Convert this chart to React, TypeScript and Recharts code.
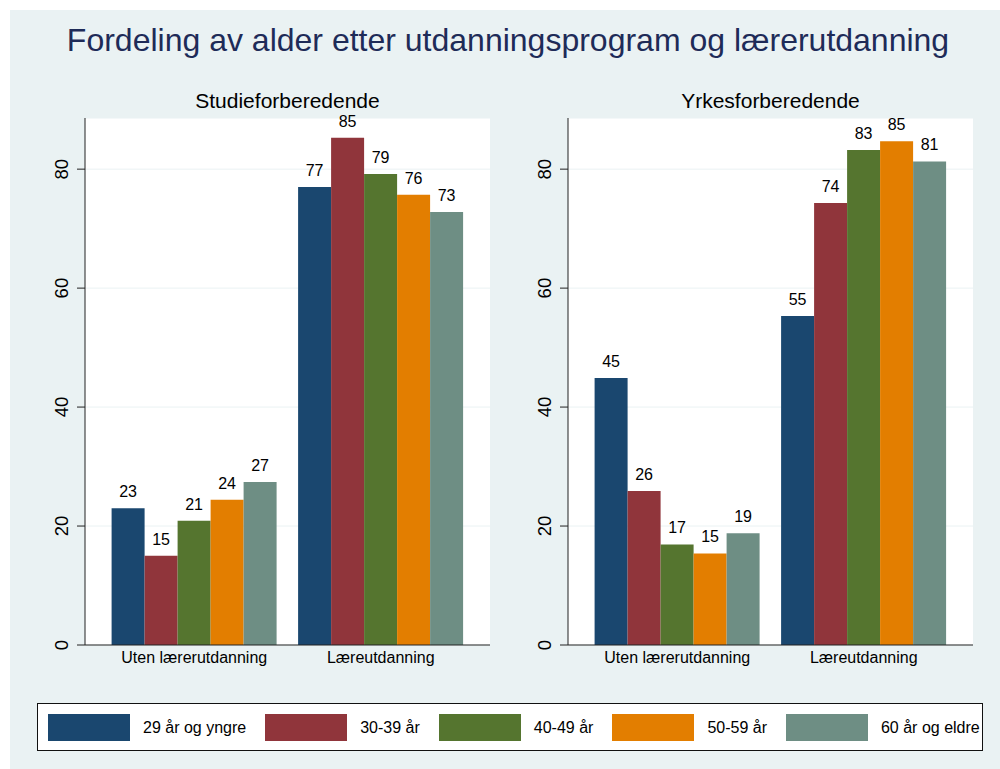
import { Bar, BarChart, CartesianGrid, LabelList, XAxis, YAxis } from 'recharts';

const categories = ['Uten lærerutdanning', 'Læreutdanning'];
const seriesNames = ['29 år og yngre', '30-39 år', '40-49 år', '50-59 år', '60 år og eldre'];
const seriesColors = ['#1a476f', '#90353b', '#55752f', '#e37e00', '#6e8e84'];

// one array per age group: [uten, med lærerutdanning]
const studie29 = [23.0, 77.0];
const studie30 = [15.0, 85.3];
const studie40 = [20.9, 79.2];
const studie50 = [24.4, 75.7];
const studie60 = [27.4, 72.8];

const yrkes29 = [44.9, 55.3];
const yrkes30 = [25.9, 74.3];
const yrkes40 = [16.9, 83.2];
const yrkes50 = [15.4, 84.7];
const yrkes60 = [18.8, 81.3];

const yTicks = [0, 20, 40, 60, 80];

const keys = ['s0', 's1', 's2', 's3', 's4'];

function buildRows(series: number[][]) {
  return categories.map((group, i) => {
    const row: Record<string, string | number> = { group };
    series.forEach((vals, s) => {
      row[keys[s]] = vals[i];
    });
    return row;
  });
}

const studieRows = buildRows([studie29, studie30, studie40, studie50, studie60]);
const yrkesRows = buildRows([yrkes29, yrkes30, yrkes40, yrkes50, yrkes60]);

const font = 'Liberation Sans, Arial, sans-serif';

function RotatedTick(props: any) {
  const { x, y, payload } = props;
  return (
    <text
      x={x - 7}
      y={y}
      transform={`rotate(-90, ${x - 7}, ${y})`}
      textAnchor="middle"
      fontSize={18.5}
      fontFamily={font}
      fill="#000"
    >
      {payload.value}
    </text>
  );
}

function Panel({ rows, yAxisWidth, rightMargin }: { rows: any[]; yAxisWidth: number; rightMargin: number }) {
  return (
    <BarChart
      width={500}
      height={700}
      data={rows}
      margin={{ top: 118, right: rightMargin, left: 0, bottom: 25 }}
      barCategoryGap={10.6}
      barGap={0}
    >
      <CartesianGrid vertical={false} stroke="#eaf2f3" fill="#ffffff" fillOpacity={1} />
      <XAxis
        dataKey="group"
        height={30}
        padding={{ left: 16, right: 16 }}
        tickLine={false}
        tickSize={5}
        stroke="#222"
        tick={{ fontSize: 16, fill: '#000', fontFamily: font }}
        interval={0}
      />
      <YAxis
        width={yAxisWidth}
        domain={[0, 88.6]}
        ticks={yTicks}
        tickSize={8}
        stroke="#222"
        tick={<RotatedTick />}
        allowDataOverflow
      />
      {keys.map((k, s) => (
        <Bar key={k} dataKey={k} fill={seriesColors[s]} isAnimationActive={false}>
          <LabelList
            dataKey={k}
            position="top"
            offset={11}
            formatter={(v: any) => Math.round(Number(v))}
            style={{ fontSize: 16, fill: '#000', fontFamily: font }}
          />
        </Bar>
      ))}
    </BarChart>
  );
}

export default function App() {
  return (
    <div style={{ position: 'absolute', left: 0, top: 0, width: 1000, height: 769, background: '#fff', fontFamily: font }}>
      <div style={{ position: 'absolute', left: 10, top: 10, width: 990, height: 759, background: '#eaf2f3' }} />
      <div
        style={{
          position: 'absolute',
          left: 0,
          width: 1016,
          top: 22,
          textAlign: 'center',
          fontSize: 32,
          color: '#1e2b58',
          whiteSpace: 'nowrap',
        }}
      >
        Fordeling av alder etter utdanningsprogram og lærerutdanning
      </div>
      <div style={{ position: 'absolute', left: 85, width: 405, top: 89, textAlign: 'center', fontSize: 21, color: '#000' }}>
        Studieforberedende
      </div>
      <div style={{ position: 'absolute', left: 568, width: 405, top: 89, textAlign: 'center', fontSize: 21, color: '#000' }}>
        Yrkesforberedende
      </div>
      <div style={{ position: 'absolute', left: 0, top: 0 }}>
        <Panel rows={studieRows} yAxisWidth={85} rightMargin={10} />
      </div>
      <div style={{ position: 'absolute', left: 490, top: 0 }}>
        <Panel rows={yrkesRows} yAxisWidth={78} rightMargin={17} />
      </div>
      <div
        style={{
          position: 'absolute',
          left: 37,
          top: 703,
          width: 946,
          height: 48,
          boxSizing: 'border-box',
          border: '1.5px solid #111',
          background: '#fff',
        }}
      />
      <div style={{ position: 'absolute', left: 48, top: 714, display: 'flex', alignItems: 'center', whiteSpace: 'nowrap' }}>
        {seriesNames.map((name, s) => (
          <div key={name} style={{ display: 'flex', alignItems: 'center', marginRight: 19 }}>
            <div style={{ width: 82, height: 27, background: seriesColors[s] }} />
            <span style={{ marginLeft: 13, fontSize: 16, color: '#000' }}>{name}</span>
          </div>
        ))}
      </div>
    </div>
  );
}
